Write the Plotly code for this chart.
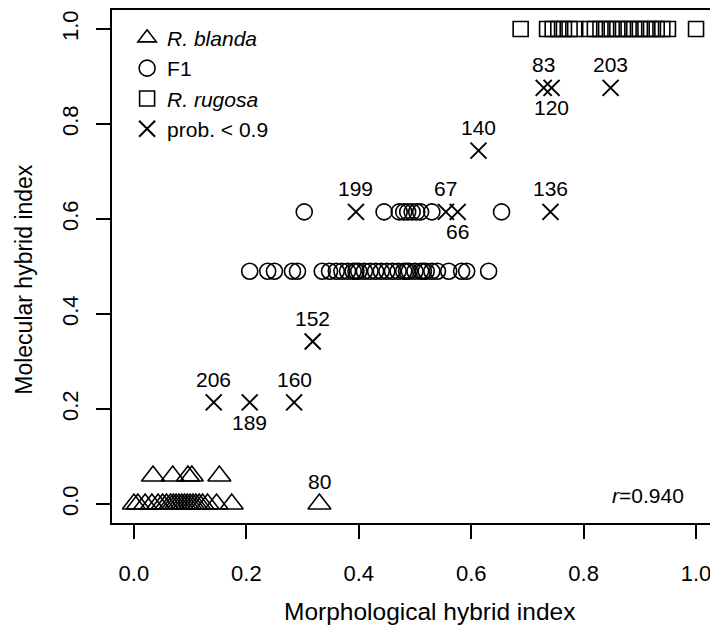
import plotly.graph_objects as go

# ---- data ----
blanda_x = [0.0, 0.007, 0.02, 0.032, 0.043, 0.051, 0.058, 0.065, 0.07, 0.075, 0.08, 0.085,
            0.09, 0.095, 0.1, 0.105, 0.11, 0.116, 0.122, 0.131, 0.147, 0.174,
            0.034, 0.069, 0.096, 0.103, 0.152, 0.33]
blanda_y = [0.0, 0.0, 0.0, 0.0, 0.0, 0.0, 0.0, 0.0, 0.0, 0.0, 0.0, 0.0,
            0.0, 0.0, 0.0, 0.0, 0.0, 0.0, 0.0, 0.0, 0.0, 0.0,
            0.059, 0.059, 0.059, 0.059, 0.059, 0.0]

f1_x = [0.206, 0.238, 0.25, 0.282, 0.291, 0.335, 0.348, 0.36, 0.37, 0.38, 0.39, 0.395,
        0.40, 0.41, 0.42, 0.43, 0.44, 0.45, 0.46, 0.47, 0.48, 0.485, 0.49, 0.50,
        0.51, 0.515, 0.52, 0.53, 0.54, 0.56, 0.583, 0.592, 0.631,
        0.303, 0.445, 0.472, 0.48, 0.487, 0.495, 0.503, 0.51, 0.53, 0.654]
f1_y = [0.49, 0.49, 0.49, 0.49, 0.49, 0.49, 0.49, 0.49, 0.49, 0.49, 0.49, 0.49,
        0.49, 0.49, 0.49, 0.49, 0.49, 0.49, 0.49, 0.49, 0.49, 0.49, 0.49, 0.49,
        0.49, 0.49, 0.49, 0.49, 0.49, 0.49, 0.49, 0.49, 0.49,
        0.615, 0.615, 0.615, 0.615, 0.615, 0.615, 0.615, 0.615, 0.615, 0.615]

rugosa_x = [0.688, 0.735, 0.745, 0.755, 0.765, 0.775, 0.785, 0.81, 0.82, 0.83, 0.84,
            0.85, 0.86, 0.87, 0.88, 0.89, 0.90, 0.91, 0.92, 0.93, 0.94, 0.95, 1.0]
rugosa_y = [1.0, 1.0, 1.0, 1.0, 1.0, 1.0, 1.0, 1.0, 1.0, 1.0, 1.0,
            1.0, 1.0, 1.0, 1.0, 1.0, 1.0, 1.0, 1.0, 1.0, 1.0, 1.0, 1.0]

low_x = [0.142, 0.206, 0.285, 0.318, 0.395, 0.555, 0.576, 0.741, 0.613, 0.729, 0.743, 0.848]
low_y = [0.214, 0.214, 0.214, 0.342, 0.615, 0.615, 0.615, 0.615, 0.744, 0.876, 0.876, 0.876]

label_ids = ["206", "189", "160", "152", "199", "67", "66", "136", "140", "83", "120", "203", "80"]
label_x = [0.142, 0.206, 0.285, 0.318, 0.395, 0.555, 0.576, 0.741, 0.613, 0.729, 0.743, 0.848, 0.33]
label_y = [0.214, 0.214, 0.214, 0.342, 0.615, 0.615, 0.615, 0.615, 0.744, 0.876, 0.876, 0.876, 0.0]
label_side = ["above", "below", "above", "above", "above", "above", "below", "above",
              "above", "above", "below", "above", "above"]

x_ticks = [0.0, 0.2, 0.4, 0.6, 0.8, 1.0]
y_ticks = [0.0, 0.2, 0.4, 0.6, 0.8, 1.0]

FONT = "Liberation Sans, Arial, Helvetica, sans-serif"

fig = go.Figure()
fig.add_trace(go.Scatter(x=blanda_x, y=blanda_y, mode="markers", name="<i>R. blanda</i>",
                         marker=dict(symbol="triangle-up-open", size=20, color="black",
                                     line=dict(width=1.6, color="black"))))
fig.add_trace(go.Scatter(x=f1_x, y=f1_y, mode="markers", name="F1",
                         marker=dict(symbol="circle-open", size=16, color="black",
                                     line=dict(width=1.6, color="black"))))
fig.add_trace(go.Scatter(x=rugosa_x, y=rugosa_y, mode="markers", name="<i>R. rugosa</i>",
                         marker=dict(symbol="square-open", size=15, color="black",
                                     line=dict(width=1.6, color="black"))))
fig.add_trace(go.Scatter(x=low_x, y=low_y, mode="markers", name="prob. < 0.9",
                         marker=dict(symbol="x-thin-open", size=16, color="black",
                                     line=dict(width=2, color="black"))))

for lid, lx, ly, side in zip(label_ids, label_x, label_y, label_side):
    fig.add_annotation(x=lx, y=ly, text=lid, showarrow=False, xanchor="center",
                       yanchor="middle", yshift=23 if side == "above" else -20,
                       font=dict(size=21, color="black", family=FONT))

axis_common = dict(showline=True, linecolor="black", linewidth=1.5, mirror=True,
                   ticks="outside", ticklen=14, tickwidth=1.5, tickcolor="black",
                   showgrid=False, zeroline=False,
                   tickfont=dict(size=22, color="black", family=FONT))

fig.update_xaxes(range=[-0.039, 1.0355], tickvals=x_ticks, tickformat=".1f",
                 ticklabelstandoff=16, **axis_common)
fig.update_yaxes(range=[-0.04, 1.04], tickvals=y_ticks, tickformat=".1f",
                 tickangle=-90, ticklabelstandoff=9, **axis_common)

fig.add_annotation(text="Morphological hybrid index", xref="paper", yref="paper",
                   x=0.525, y=-0.173, showarrow=False, xanchor="center", yanchor="middle",
                   font=dict(size=24.5, color="black", family=FONT))
fig.add_annotation(text="Molecular hybrid index", xref="paper", yref="paper",
                   x=-0.145, y=0.475, textangle=-90, showarrow=False,
                   xanchor="center", yanchor="middle",
                   font=dict(size=23, color="black", family=FONT))
fig.add_annotation(text="<i>r</i>=0.940", xref="paper", yref="paper",
                   x=0.888, y=0.054, showarrow=False, xanchor="center", yanchor="middle",
                   font=dict(size=21, color="black", family=FONT))

fig.update_layout(
    width=710, height=622,
    margin=dict(l=104, r=0, t=1, b=107),
    paper_bgcolor="white", plot_bgcolor="white",
    font=dict(family=FONT, color="black"),
    legend=dict(x=0.025, y=0.985, xanchor="left", yanchor="top",
                bgcolor="rgba(0,0,0,0)", borderwidth=0,
                font=dict(size=21, color="black", family=FONT),
                itemsizing="trace"),
)

fig.write_html("out.html")
